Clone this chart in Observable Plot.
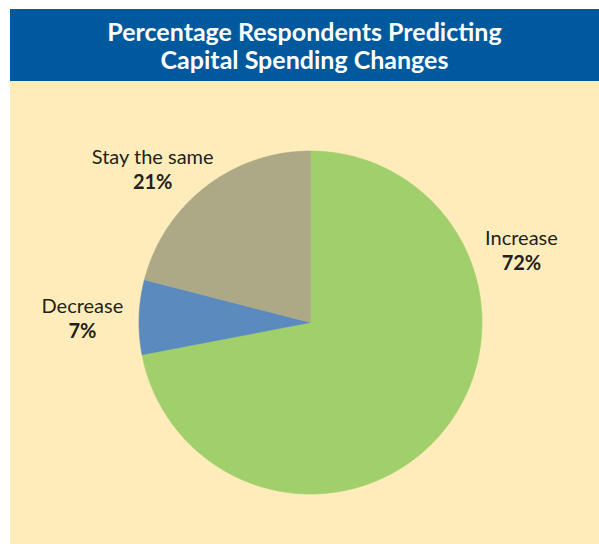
<!DOCTYPE html>
<html>
<head>
<meta charset="utf-8">
<script src="https://cdn.jsdelivr.net/npm/d3@7"></script>
<script src="https://cdn.jsdelivr.net/npm/@observablehq/plot@0.6"></script>
<style>
  html, body { margin: 0; padding: 0; background: #ffffff; width: 599px; height: 544px; overflow: hidden; }
  #header {
    position: absolute; left: 10px; top: 9px; width: 589px; height: 72px;
    background: #00599c; color: #ffffff;
    font-family: Lato, "Open Sans", sans-serif; font-weight: 700; font-size: 25px;
    line-height: 28px; text-align: center;
    display: flex; align-items: center; justify-content: center;
  }
  #panel { position: absolute; left: 10px; top: 81px; width: 589px; height: 463px; background: #feedba; }
  #panel svg { display: block; }
</style>
</head>
<body>
<div id="header"><div>Percentage Respondents Predicting<br>Capital Spending Changes</div></div>
<div id="panel"></div>
<script>
// Data
const categories = ["Increase", "Decrease", "Stay the same"];
const values = [72, 7, 21];
const colors = ["#a1cf6b", "#5a8abe", "#ada886"];

// Layout (pixels within the panel)
const W = 589, H = 463;
const R = 171.5;          // pie radius in px
const cx = 300, cy = 241; // pie center in px

// Label anchor positions in pie-radius units (x right, y down)
const labelAnchor = {
  "Increase": [1.23, -0.42],
  "Decrease": [-1.33, -0.02],
  "Stay the same": [-0.92, -0.89]
};

const total = d3.sum(values);
const pie = d3.pie().sort(null).value(d => d.value)(
  categories.map((c, i) => ({name: c, value: values[i], color: colors[i]}))
);

// Build polygon outlines for each slice (angle measured clockwise from 12 o'clock)
const slices = pie.map(p => {
  const pts = [{x: 0, y: 0, name: p.data.name}];
  const n = Math.max(2, Math.ceil((p.endAngle - p.startAngle) / (Math.PI / 360)));
  for (let k = 0; k <= n; k++) {
    const a = p.startAngle + (p.endAngle - p.startAngle) * k / n;
    pts.push({x: Math.sin(a), y: -Math.cos(a), name: p.data.name});
  }
  pts.push({x: 0, y: 0, name: p.data.name});
  return {name: p.data.name, color: p.data.color, pts};
});

const labels = categories.map((c, i) => ({
  name: c,
  pct: Math.round(values[i] / total * 100) + "%",
  x: labelAnchor[c][0],
  y: labelAnchor[c][1]
}));

const font = "Lato, 'Open Sans', sans-serif";

const chart = Plot.plot({
  width: W,
  height: H,
  margin: 0,
  style: {background: "transparent", overflow: "visible"},
  x: {domain: [-cx / R, (W - cx) / R], range: [0, W], axis: null},
  y: {domain: [-cy / R, (H - cy) / R], range: [0, H], axis: null},
  marks: [
    ...slices.map(s => Plot.line(s.pts, {
      x: "x", y: "y", fill: s.color, stroke: s.color, strokeWidth: 0.6, curve: "linear"
    })),
    Plot.text(labels, {
      x: "x", y: "y", text: "name", dy: -12,
      fontFamily: font, fontSize: 20, fill: "#231f20", textAnchor: "middle"
    }),
    Plot.text(labels, {
      x: "x", y: "y", text: "pct", dy: 13,
      fontFamily: font, fontSize: 20, fontWeight: 700, fill: "#231f20", textAnchor: "middle"
    })
  ]
});
document.getElementById("panel").appendChild(chart);
</script>
</body>
</html>
